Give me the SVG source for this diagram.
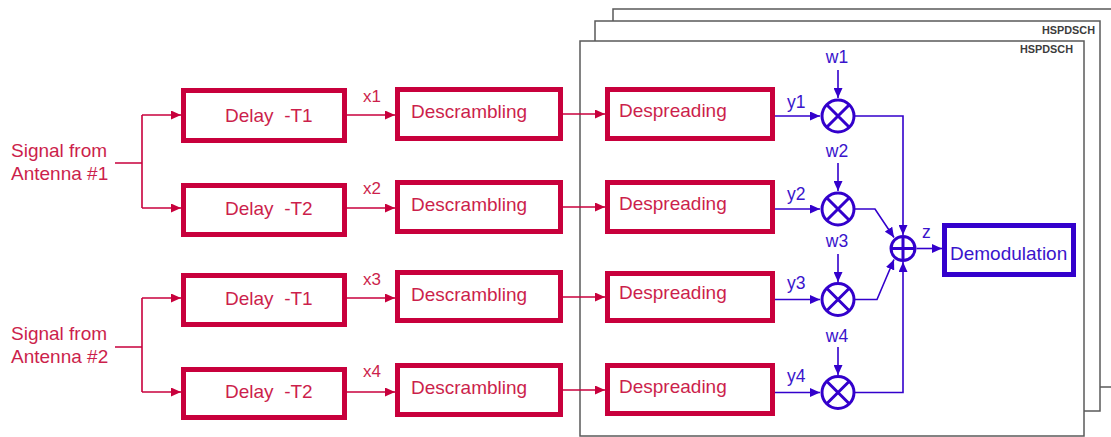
<svg xmlns="http://www.w3.org/2000/svg" width="1111" height="437" viewBox="0 0 1111 437">
  <style>
    text { font-family: "Liberation Sans", Arial, sans-serif; }
    .frame { fill: #ffffff; stroke: #5a5a5a; stroke-width: 1.5; }
    .ftitle { font-size: 10.5px; font-weight: bold; fill: #3c3c3c; }
    .rbox { fill: #ffffff; stroke: #c8003c; stroke-width: 5; }
    .rtext { font-size: 19px; fill: #cc1f4c; }
    .rlabel { font-size: 17px; fill: #cc1f4c; }
    .bbox { fill: #ffffff; stroke: #3300cc; stroke-width: 5; }
    .btext { font-size: 19px; fill: #3a14cc; }
    .blabel { font-size: 17.5px; fill: #3a14cc; }
    .op { fill: #ffffff; stroke: #3300cc; stroke-width: 3; }
    .opx { stroke: #3300cc; stroke-width: 3; fill: none; }
    .rline { fill: none; stroke: #c8003c; stroke-width: 1.6; }
    .rarrow { fill: none; stroke: #c8003c; stroke-width: 1.6; marker-end: url(#ahRed); }
    .bline { fill: none; stroke: #3300cc; stroke-width: 1.6; }
    .barrow { fill: none; stroke: #3300cc; stroke-width: 1.6; marker-end: url(#ahBlue); }
  </style>
  <defs>
    <marker id="ahRed" markerUnits="userSpaceOnUse" markerWidth="10" markerHeight="9" refX="10" refY="4.5" orient="auto">
      <path d="M0,0 L10,4.5 L0,9 z" fill="#c8003c"/>
    </marker>
    <marker id="ahBlue" markerUnits="userSpaceOnUse" markerWidth="10" markerHeight="9" refX="10" refY="4.5" orient="auto">
      <path d="M0,0 L10,4.5 L0,9 z" fill="#3300cc"/>
    </marker>
  </defs>

  <rect width="1111" height="437" fill="#ffffff"/>

  <!-- stacked HSPDSCH frames, back to front -->
  <g id="frame-back">
    <rect class="frame" x="613" y="9" width="520" height="378"/>
  </g>
  <g id="frame-middle">
    <rect class="frame" x="595" y="21" width="505" height="390"/>
    <text class="ftitle" x="1042" y="34" textLength="53" lengthAdjust="spacingAndGlyphs">HSPDSCH</text>
  </g>
  <g id="frame-front">
    <rect class="frame" x="580" y="41" width="504" height="395"/>
    <text class="ftitle" x="1020" y="53" textLength="53" lengthAdjust="spacingAndGlyphs">HSPDSCH</text>
  </g>

  <!-- antenna inputs -->
  <g id="antenna1">
    <text class="rtext" x="11" y="157">Signal from</text>
    <text class="rtext" x="11" y="180">Antenna #1</text>
  </g>
  <g id="antenna2">
    <text class="rtext" x="11" y="340">Signal from</text>
    <text class="rtext" x="11" y="363">Antenna #2</text>
  </g>

  <!-- delay stage -->
  <g id="delay1">
    <rect class="rbox" x="183.5" y="90.5" width="161" height="50"/>
    <text class="rtext" x="225" y="122" xml:space="preserve">Delay  -T1</text>
  </g>
  <g id="delay2">
    <rect class="rbox" x="183.5" y="185.5" width="161" height="49"/>
    <text class="rtext" x="225" y="215" xml:space="preserve">Delay  -T2</text>
  </g>
  <g id="delay3">
    <rect class="rbox" x="183.5" y="275.5" width="161" height="49"/>
    <text class="rtext" x="225" y="305" xml:space="preserve">Delay  -T1</text>
  </g>
  <g id="delay4">
    <rect class="rbox" x="183.5" y="369.5" width="161" height="48"/>
    <text class="rtext" x="225" y="398" xml:space="preserve">Delay  -T2</text>
  </g>

  <!-- descrambling stage -->
  <g id="descrambling1">
    <rect class="rbox" x="397.5" y="89.5" width="163" height="49"/>
    <text class="rtext" x="411" y="118">Descrambling</text>
  </g>
  <g id="descrambling2">
    <rect class="rbox" x="397.5" y="182.5" width="163" height="49"/>
    <text class="rtext" x="411" y="211">Descrambling</text>
  </g>
  <g id="descrambling3">
    <rect class="rbox" x="397.5" y="272.5" width="163" height="48"/>
    <text class="rtext" x="411" y="301">Descrambling</text>
  </g>
  <g id="descrambling4">
    <rect class="rbox" x="397.5" y="365.5" width="163" height="49"/>
    <text class="rtext" x="411" y="394">Descrambling</text>
  </g>

  <!-- despreading stage -->
  <g id="despreading1">
    <rect class="rbox" x="607.5" y="89.5" width="165" height="49"/>
    <text class="rtext" x="619" y="117">Despreading</text>
  </g>
  <g id="despreading2">
    <rect class="rbox" x="607.5" y="182.5" width="165" height="49"/>
    <text class="rtext" x="619" y="210">Despreading</text>
  </g>
  <g id="despreading3">
    <rect class="rbox" x="607.5" y="273.5" width="165" height="47"/>
    <text class="rtext" x="619" y="299">Despreading</text>
  </g>
  <g id="despreading4">
    <rect class="rbox" x="607.5" y="365.5" width="165" height="48"/>
    <text class="rtext" x="619" y="393">Despreading</text>
  </g>

  <!-- weighting multipliers -->
  <g id="mult1">
    <circle class="op" cx="838" cy="116" r="16"/>
    <path class="opx" d="M826.7,104.7 L849.3,127.3 M849.3,104.7 L826.7,127.3"/>
  </g>
  <g id="mult2">
    <circle class="op" cx="838" cy="209" r="16"/>
    <path class="opx" d="M826.7,197.7 L849.3,220.3 M849.3,197.7 L826.7,220.3"/>
  </g>
  <g id="mult3">
    <circle class="op" cx="838" cy="299.5" r="16"/>
    <path class="opx" d="M826.7,288.2 L849.3,310.8 M849.3,288.2 L826.7,310.8"/>
  </g>
  <g id="mult4">
    <circle class="op" cx="838" cy="392.5" r="16"/>
    <path class="opx" d="M826.7,381.2 L849.3,403.8 M849.3,381.2 L826.7,403.8"/>
  </g>

  <!-- combiner -->
  <g id="adder">
    <circle class="op" cx="903" cy="248.5" r="12"/>
    <path class="opx" d="M891,248.5 L915,248.5 M903,236.5 L903,260.5"/>
  </g>

  <g id="demodulation">
    <rect class="bbox" x="944.5" y="225.5" width="129" height="49"/>
    <text class="btext" x="950" y="260">Demodulation</text>
  </g>

  <!-- signal labels -->
  <g id="labels">
    <text class="rlabel" x="363" y="102">x1</text>
    <text class="rlabel" x="363" y="194">x2</text>
    <text class="rlabel" x="363" y="285">x3</text>
    <text class="rlabel" x="363" y="377">x4</text>
    <text class="blabel" x="787" y="108">y1</text>
    <text class="blabel" x="787" y="200">y2</text>
    <text class="blabel" x="787" y="289">y3</text>
    <text class="blabel" x="787" y="382">y4</text>
    <text class="blabel" x="837" y="63" text-anchor="middle">w1</text>
    <text class="blabel" x="837" y="157" text-anchor="middle">w2</text>
    <text class="blabel" x="837" y="247" text-anchor="middle">w3</text>
    <text class="blabel" x="837" y="342" text-anchor="middle">w4</text>
    <text class="blabel" x="922" y="238">z</text>
  </g>

  <g id="connectors">
    <!-- antenna 1 split -->
    <path class="rline" d="M115,163 H142 M142,115 V208"/>
    <path class="rarrow" d="M142,115 H181"/>
    <path class="rarrow" d="M142,208 H181"/>
    <!-- antenna 2 split -->
    <path class="rline" d="M115,347 H142 M142,298 V392"/>
    <path class="rarrow" d="M142,298 H181"/>
    <path class="rarrow" d="M142,392 H181"/>
    <!-- delay to descrambling -->
    <path class="rarrow" d="M347,115 H395"/>
    <path class="rarrow" d="M347,208 H395"/>
    <path class="rarrow" d="M347,298 H395"/>
    <path class="rarrow" d="M347,392 H395"/>
    <!-- descrambling to despreading -->
    <path class="rarrow" d="M563,114 H605"/>
    <path class="rarrow" d="M563,207 H605"/>
    <path class="rarrow" d="M563,297 H605"/>
    <path class="rarrow" d="M563,390 H605"/>
    <!-- despreading to multipliers -->
    <path class="barrow" d="M775,116 H820"/>
    <path class="barrow" d="M775,209 H820"/>
    <path class="barrow" d="M775,299.5 H820"/>
    <path class="barrow" d="M775,392.5 H820"/>
    <!-- weights -->
    <path class="barrow" d="M838,70 V98"/>
    <path class="barrow" d="M838,163 V191"/>
    <path class="barrow" d="M838,254 V282"/>
    <path class="barrow" d="M838,347 V375"/>
    <!-- multipliers to combiner -->
    <path class="barrow" d="M855,116 H903 V235"/>
    <path class="barrow" d="M855,209 H875 L894,237.5"/>
    <path class="barrow" d="M855,299.5 H877 L894,259.5"/>
    <path class="barrow" d="M855,392.5 H903 V262"/>
    <!-- combiner to demodulation -->
    <path class="barrow" d="M916.5,248.5 H942"/>
  </g>
</svg>
